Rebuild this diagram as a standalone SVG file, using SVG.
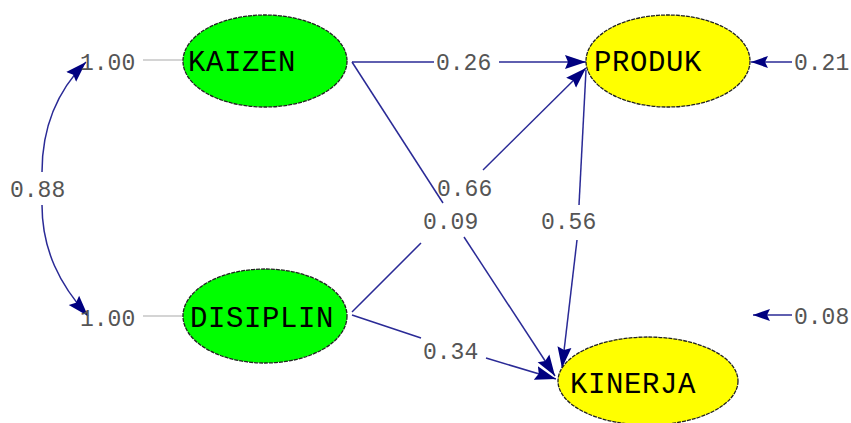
<svg xmlns="http://www.w3.org/2000/svg" width="851" height="423" viewBox="0 0 851 423">
  <defs>
    <style>
      .lat { stroke: #222; stroke-width: 1.3; stroke-dasharray: 4 1; }
      .exo { fill: #00ff00; }
      .endo { fill: #ffff00; }
      .name { font-family: "Liberation Mono", "DejaVu Sans Mono", monospace; font-size: 29px; fill: #000; letter-spacing: 0.6px; }
      .val { font-family: "Liberation Mono", "DejaVu Sans Mono", monospace; font-size: 23px; fill: #555; }
      .path { fill: none; stroke: #2a2a96; stroke-width: 1.5; }
      .tie { fill: none; stroke: #aaa; stroke-width: 1.2; }
    </style>
    <marker id="head" markerUnits="userSpaceOnUse" markerWidth="22" markerHeight="16" viewBox="0 -8 22 16" refX="21" refY="0" orient="auto">
      <path d="M0,-7 L21,0 L0,7 L3,0 z" fill="#000080"/>
    </marker>
    <marker id="headS" markerUnits="userSpaceOnUse" markerWidth="18" markerHeight="14" viewBox="0 -7 18 14" refX="17" refY="0" orient="auto">
      <path d="M0,-6 L17,0 L0,6 L3,0 z" fill="#000080"/>
    </marker>
  </defs>

  <rect width="851" height="423" fill="#ffffff"/>

  <!-- structural paths and covariance -->
  <g id="connectors">
    <!-- KAIZEN -> PRODUK -->
    <path class="path" d="M352,62 H434"/>
    <path class="path" d="M499,62 H586" marker-end="url(#head)"/>
    <!-- KAIZEN -> KINERJA -->
    <path class="path" d="M352,62 L443,203"/>
    <path class="path" d="M464,237 L555,376" marker-end="url(#head)"/>
    <!-- DISIPLIN -> PRODUK -->
    <path class="path" d="M352,312 L421,243"/>
    <path class="path" d="M483,170 L586,68" marker-end="url(#head)"/>
    <!-- DISIPLIN -> KINERJA -->
    <path class="path" d="M352,315 L421,338"/>
    <path class="path" d="M486,358 L556,379" marker-end="url(#head)"/>
    <!-- PRODUK -> KINERJA -->
    <path class="path" d="M586,70 L579,205"/>
    <path class="path" d="M577,240 L562,368" marker-end="url(#head)"/>
    <!-- residual arrows -->
    <path class="path" d="M792,62 H751" marker-end="url(#headS)"/>
    <path class="path" d="M792,315 H753" marker-end="url(#headS)"/>
    <!-- KAIZEN <-> DISIPLIN covariance -->
    <path class="path" d="M42,172 C42,125 58,90 86,62" marker-end="url(#head)"/>
    <path class="path" d="M42,205 C42,250 60,285 88,316" marker-end="url(#head)"/>
    <!-- variance ties -->
    <path class="tie" d="M143,60 H184"/>
    <path class="tie" d="M143,316 H184"/>
  </g>

  <g id="node-kaizen">
    <ellipse class="exo lat" cx="265" cy="61" rx="82" ry="46"/>
    <text class="name" x="188" y="71">KAIZEN</text>
  </g>
  <g id="node-disiplin">
    <ellipse class="exo lat" cx="265" cy="316" rx="82" ry="47"/>
    <text class="name" x="190" y="327">DISIPLIN</text>
  </g>
  <g id="node-produk">
    <ellipse class="endo lat" cx="668" cy="61" rx="82" ry="46"/>
    <text class="name" x="594" y="71">PRODUK</text>
  </g>
  <g id="node-kinerja">
    <ellipse class="endo lat" cx="648" cy="381" rx="90" ry="44"/>
    <text class="name" x="570" y="393">KINERJA</text>
  </g>

  <!-- estimates -->
  <g id="labels">
    <text class="val" x="80" y="70">1.00</text>
    <text class="val" x="80" y="326">1.00</text>
    <text class="val" x="10" y="197">0.88</text>
    <text class="val" x="436" y="70">0.26</text>
    <text class="val" x="437" y="196">0.66</text>
    <text class="val" x="423" y="229">0.09</text>
    <text class="val" x="541" y="229">0.56</text>
    <text class="val" x="423" y="359">0.34</text>
    <text class="val" x="794" y="70">0.21</text>
    <text class="val" x="794" y="324">0.08</text>
  </g>
</svg>
